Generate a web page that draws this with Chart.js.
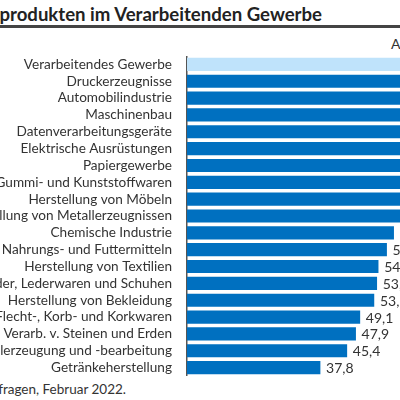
<!DOCTYPE html>
<html>
<head>
<meta charset="utf-8">
<script src="https://cdn.jsdelivr.net/npm/chart.js@4.4.1/dist/chart.umd.min.js"></script>
<style>
  html, body { margin: 0; padding: 0; }
  body { width: 400px; height: 400px; overflow: hidden; position: relative; background: #fff; font-family: Lato, sans-serif; color: #333; }
  #title { position: absolute; right: 78px; top: 3px; white-space: nowrap; font-size: 18.6px; font-weight: bold; color: #222; }
  #rule { position: absolute; left: 0; top: 25px; width: 400px; height: 3px; background: #444; }
  #unit { position: absolute; left: 391px; top: 35px; white-space: nowrap; font-size: 14px; }
  #source { position: absolute; right: 274px; top: 381px; white-space: nowrap; font-size: 13.5px; }
  #wrap { position: absolute; left: -113px; top: 56px; width: 700px; height: 320px; }
</style>
</head>
<body>
<div id="title">Engpässe bei Vorprodukten im Verarbeitenden Gewerbe</div>
<div id="rule"></div>
<div id="unit">Anteil in %</div>
<div id="wrap"><canvas id="chart"></canvas></div>
<div id="source">Quelle: ifo Konjunkturumfragen, Februar 2022.</div>
<script>
// Branchen (von oben nach unten)
const branchen = [
  "Verarbeitendes Gewerbe",
  "Druckerzeugnisse",
  "Automobilindustrie",
  "Maschinenbau",
  "Datenverarbeitungsgeräte",
  "Elektrische Ausrüstungen",
  "Papiergewerbe",
  "Gummi- und Kunststoffwaren",
  "Herstellung von Möbeln",
  "Herstellung von Metallerzeugnissen",
  "Chemische Industrie",
  "Herstellung von Nahrungs- und Futtermitteln",
  "Herstellung von Textilien",
  "Herstellung von Leder, Lederwaren und Schuhen",
  "Herstellung von Bekleidung",
  "Holz-, Flecht-, Korb- und Korkwaren",
  "Glas, Keramik, Verarb. v. Steinen und Erden",
  "Metallerzeugung und -bearbeitung",
  "Getränkeherstellung"
];

// Anteil der Unternehmen mit Engpässen, in %
const anteil = [74.6, 91.5, 89.4, 86.5, 84.8, 83.9, 80.4, 77.9, 75.8, 73.8,
                58.7, 56.7, 54.3, 53.9, 53.1, 49.1, 47.9, 45.4, 37.8];

const farben = anteil.map((v, i) => i === 0 ? "#BFE3FB" : "#0070C0");

// Werte rechts neben die Balken schreiben
const werteLabels = {
  id: "werteLabels",
  afterDatasetsDraw(chart) {
    const ctx = chart.ctx;
    const meta = chart.getDatasetMeta(0);
    ctx.save();
    ctx.font = "14px Lato";
    ctx.fillStyle = "#333";
    ctx.textAlign = "left";
    ctx.textBaseline = "middle";
    meta.data.forEach((bar, i) => {
      ctx.fillText(anteil[i].toFixed(1).replace(".", ","), bar.x + 6, bar.y + 1);
    });
    ctx.restore();
  }
};

new Chart(document.getElementById("chart"), {
  type: "bar",
  data: {
    labels: branchen,
    datasets: [{ data: anteil, backgroundColor: farben, barThickness: 12.5 }]
  },
  options: {
    indexAxis: "y",
    responsive: true,
    maintainAspectRatio: false,
    animation: false,
    layout: { padding: { left: 0, right: 48, top: 0, bottom: 0 } },
    plugins: { legend: { display: false }, tooltip: { enabled: false } },
    scales: {
      x: { display: false, min: 0, max: 100 },
      y: {
        afterFit: s => { s.width = 300; s.paddingTop = 0; s.paddingBottom = 0; },
        grid: { display: false, drawTicks: false },
        border: { display: true, color: "#555", width: 1.5 },
        ticks: { autoSkip: false, padding: 15, color: "#333", font: { family: "Lato", size: 13.6 } }
      }
    }
  },
  plugins: [werteLabels]
});
</script>
</body>
</html>
